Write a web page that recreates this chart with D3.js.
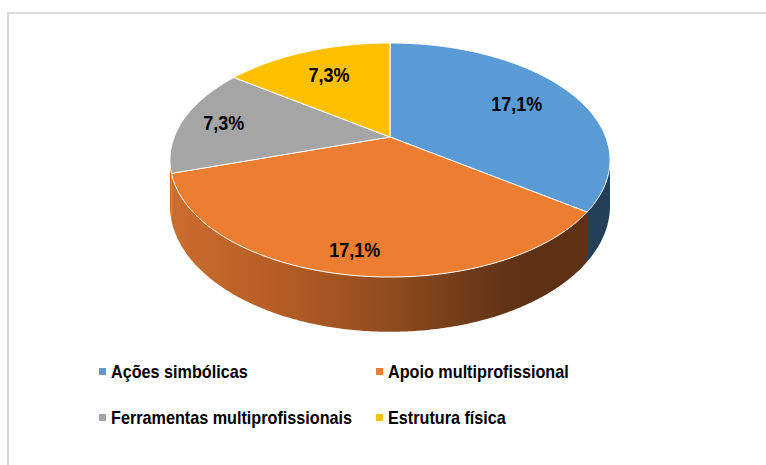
<!DOCTYPE html>
<html>
<head>
<meta charset="utf-8">
<script src="https://cdn.jsdelivr.net/npm/d3@7"></script>
<style>
  body { margin: 0; background: #fff; }
  svg { display: block; }
  .lbl { font-family: "Liberation Sans", Arial, sans-serif; font-weight: bold; fill: #000; }
</style>
</head>
<body>
<script>
var categories = ["Ações simbólicas", "Apoio multiprofissional", "Ferramentas multiprofissionais", "Estrutura física"];
var values = [17.1, 17.1, 7.3, 7.3];
var valueLabels = ["17,1%", "17,1%", "7,3%", "7,3%"];

var topColors = ["#5B9BD5", "#ED7D31", "#A5A5A5", "#FFC000"];
var wallColors = ["#243F58", "url(#wallOrange)", "#B86428", "#8C6A00"];
var labelRadius = [0.7, 0.85, 0.8, 0.7];

var width = 766, height = 465;
var squeeze = 0.9; // narrow the glyphs to look like Calibri

// perspective pie: centre, half axes, perspective strength, thickness
var cx = 390, cy = 137, a = 215.7, b = 112.5, e = 0.1966, depth = 44;

function proj(r, ang, dz) {
  var u = r * Math.sin(ang), v = -r * Math.cos(ang);
  var s = 1 / (1 - e * v);
  return [cx + a * u * s, cy + b * v * s + (dz || 0) * s];
}

function arcPoints(r, a0, a1, dz) {
  var n = Math.max(2, Math.ceil(Math.abs(a1 - a0) / 0.01));
  var pts = [];
  for (var i = 0; i <= n; i++) pts.push(proj(r, a0 + (a1 - a0) * i / n, dz));
  return pts;
}

var svg = d3.select("body").append("svg")
  .attr("width", width).attr("height", height);

var defs = svg.append("defs");
var grad = defs.append("linearGradient").attr("id", "wallOrange")
  .attr("gradientUnits", "userSpaceOnUse")
  .attr("x1", 172).attr("y1", 0).attr("x2", 585).attr("y2", 0);
grad.append("stop").attr("offset", 0).attr("stop-color", "#CB6D2D");
grad.append("stop").attr("offset", 0.3).attr("stop-color", "#B05A24");
grad.append("stop").attr("offset", 0.55).attr("stop-color", "#8C4A1E");
grad.append("stop").attr("offset", 0.75).attr("stop-color", "#6A3817");
grad.append("stop").attr("offset", 0.85).attr("stop-color", "#5E3114");
grad.append("stop").attr("offset", 1).attr("stop-color", "#5E3114");

// chart area border
svg.append("rect")
  .attr("x", 8).attr("y", 13).attr("width", 800).attr("height", 500)
  .attr("fill", "none").attr("stroke", "#D9D9D9").attr("stroke-width", 2);

var pie = d3.pie().sort(null).startAngle(0).endAngle(2 * Math.PI);
var arcs = pie(values);

var line = d3.line();

// visible part of the rim, between the two silhouette points
var rimStart = Math.PI / 2 + Math.asin(e), rimEnd = 3 * Math.PI / 2 - Math.asin(e);

var walls = svg.append("g");
arcs.forEach(function(d, i) {
  var a0 = Math.max(d.startAngle, rimStart), a1 = Math.min(d.endAngle, rimEnd);
  if (a1 <= a0) return;
  var pts = arcPoints(1, a0, a1, 0).concat(arcPoints(1, a1, a0, depth));
  walls.append("path")
    .attr("d", line(pts) + "Z")
    .attr("fill", wallColors[i]);
});

var tops = svg.append("g");
arcs.forEach(function(d, i) {
  var pts = [proj(0, 0)].concat(arcPoints(1, d.startAngle, d.endAngle, 0));
  tops.append("path")
    .attr("d", line(pts) + "Z")
    .attr("fill", topColors[i])
    .attr("stroke", "#fff").attr("stroke-width", 1).attr("stroke-linejoin", "round");
});

// data labels
arcs.forEach(function(d, i) {
  var p = proj(labelRadius[i], (d.startAngle + d.endAngle) / 2, 0);
  svg.append("text").attr("class", "lbl")
    .attr("transform", "translate(" + p[0] + "," + p[1] + ") scale(" + squeeze + ",1)")
    .attr("dy", "0.36em")
    .attr("text-anchor", "middle")
    .style("font-size", "20px")
    .text(valueLabels[i]);
});

// legend
var legendCols = [99, 376], legendRows = [378, 424];
var legend = svg.append("g");
categories.forEach(function(c, i) {
  var lx = legendCols[i % 2], ly = legendRows[Math.floor(i / 2)];
  legend.append("rect")
    .attr("x", lx).attr("y", ly - 10).attr("width", 7).attr("height", 7)
    .attr("fill", topColors[i]);
  legend.append("text").attr("class", "lbl")
    .attr("transform", "translate(" + (lx + 12) + "," + ly + ") scale(" + squeeze + ",1)")
    .style("font-size", "18px")
    .text(c);
});
</script>
</body>
</html>
